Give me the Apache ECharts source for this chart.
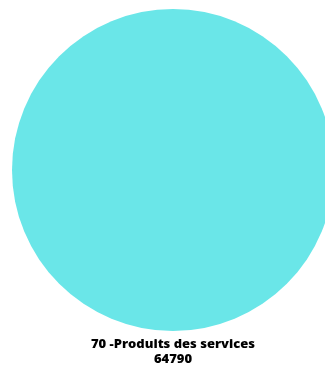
<!DOCTYPE html>
<html><head><meta charset="utf-8">
<script src="https://cdn.jsdelivr.net/npm/echarts@6/dist/echarts.min.js"></script>
<style>html,body{margin:0;padding:0;background:#fff}#c{width:325px;height:365px}</style>
</head><body><div id="c"></div>
<script>
const categories = ["70 -Produits des services"];
const values = [64790];
const colors = ["#6ae6e8"];
const chart = echarts.init(document.getElementById('c'));
chart.setOption({
  animation: false,
  series: [{
    type: 'pie',
    center: [173, 170],
    radius: 161,
    color: colors,
    data: categories.map((n, i) => ({name: n, value: values[i]})),
    label: {
      show: true, position: 'outside',
      formatter: '{b}\n{c}',
      fontFamily: 'Open Sans', fontWeight: 800, fontSize: 13,
      color: '#000', lineHeight: 15, overflow: 'none'
    },
    labelLine: {show: false, length: 0, length2: 0},
    labelLayout: function (p) {
      return {x: 173, y: 337, align: 'center', verticalAlign: 'top'};
    }
  }]
});
</script></body></html>
